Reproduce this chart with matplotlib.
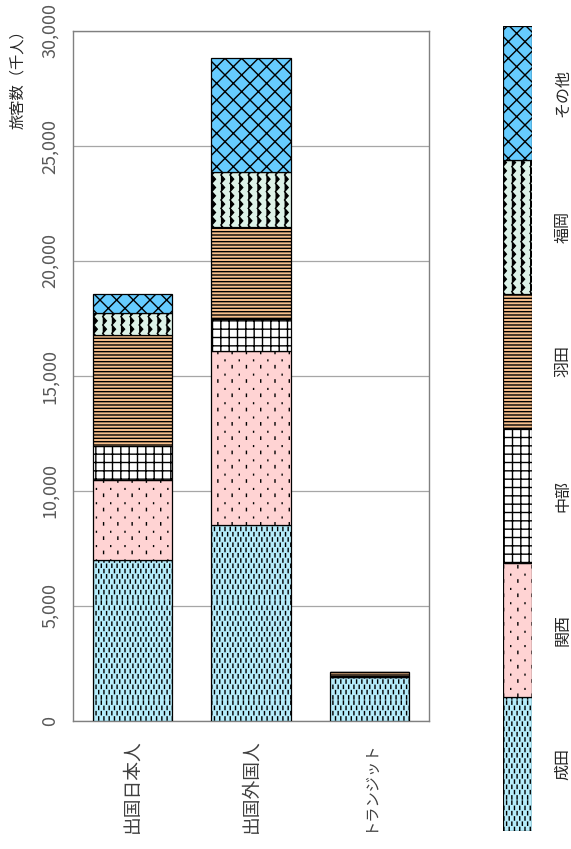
import warnings
warnings.filterwarnings("ignore")
import numpy as np
import matplotlib
matplotlib.use("Agg")
import matplotlib.pyplot as plt
import matplotlib.hatch as mhatch
from matplotlib.path import Path
from matplotlib.transforms import blended_transform_factory

plt.rcParams['font.family'] = ['Noto Sans CJK JP', 'DejaVu Sans']
plt.rcParams['hatch.linewidth'] = 1.0

# ---------------- data ----------------
categories = ['出国日本人', '出国外国人', 'トランジット']
series = ['成田', '関西', '中部', '羽田', '福岡', 'その他']
narita = [7000, 8520, 1910]
kansai = [3480, 7570, 20]
chubu = [1480, 1380, 30]
haneda = [4820, 4000, 150]
fukuoka = [970, 2390, 10]
others = [820, 4980, 10]
yticks = [0, 5000, 10000, 15000, 20000, 25000, 30000]
ytick_labels = ['0', '5,000', '10,000', '15,000', '20,000', '25,000', '30,000']
ylabel = '旅客数（千人）'

values = [narita, kansai, chubu, haneda, fukuoka, others]


# ---------------- custom hatches ----------------
class WaveHatch(mhatch.HatchPatternBase):
    """vertical zig-zag lines, char '~'"""
    def __init__(self, hatch, density):
        self.num_lines = 11 if '~' in hatch else 0
        self.segs = 24
        self.num_vertices = self.num_lines * (self.segs + 1)

    def set_vertices_and_codes(self, vertices, codes):
        if not self.num_lines:
            return
        step = 1.0 / self.num_lines
        amp = 0.2 * step
        ys = np.linspace(0, 1, self.segs + 1)
        k = 0
        for j in range(self.num_lines):
            x0 = (j + 0.5) * step
            for i, y in enumerate(ys):
                vertices[k] = (x0 + (amp if i % 2 else -amp), y)
                codes[k] = Path.MOVETO if i == 0 else Path.LINETO
                k += 1


class DashHatch(mhatch.HatchPatternBase):
    """staggered short vertical dashes, char ':'"""
    def __init__(self, hatch, density):
        self.n = 19 if ':' in hatch else 0
        self.num_vertices = self.n * self.n * 2

    def set_vertices_and_codes(self, vertices, codes):
        if not self.n:
            return
        step = 1.0 / self.n
        k = 0
        for r in range(self.n):
            for c in range(self.n):
                x = (c + 0.5 * (r % 2) + 0.25) * step
                y = (r + 0.2) * step
                vertices[k] = (x, y)
                vertices[k + 1] = (x, y + 0.6 * step)
                codes[k] = Path.MOVETO
                codes[k + 1] = Path.LINETO
                k += 2


class DotHatch(mhatch.HatchPatternBase):
    """sparse big dots with small dots between, char ','"""
    def __init__(self, hatch, density):
        self.n = 7 if ',' in hatch else 0
        self.num_vertices = self.n * self.n * 4

    def set_vertices_and_codes(self, vertices, codes):
        if not self.n:
            return
        step = 1.0 / self.n
        k = 0
        for r in range(self.n):
            for c in range(self.n):
                x = (c + 0.25) * step
                y = (r + 0.25) * step
                vertices[k] = (x, y)
                vertices[k + 1] = (x, y + 0.16 * step)
                xs = (c + 0.75) * step
                ys = (r + 0.75) * step
                vertices[k + 2] = (xs, ys)
                vertices[k + 3] = (xs, ys + 0.05 * step)
                codes[k] = Path.MOVETO
                codes[k + 1] = Path.LINETO
                codes[k + 2] = Path.MOVETO
                codes[k + 3] = Path.LINETO
                k += 4


mhatch._hatch_types.append(WaveHatch)
mhatch._hatch_types.append(DashHatch)
mhatch._hatch_types.append(DotHatch)

colors = ['#B5ECFB', '#FFD3D3', '#FFFFFF', '#F8C08C', '#DDF2E8', '#66CCFF']
hatches = [':', ',', '++', '-----', '~', 'xx']

# ---------------- figure ----------------
fig = plt.figure(figsize=(5.71, 8.49), dpi=100)
ax = fig.add_axes([73 / 571, 1 - 721 / 849, 356 / 571, 690 / 849])

x = np.arange(len(categories))
bottom = np.zeros(len(categories))
for vals, col, h in zip(values, colors, hatches):
    ax.bar(x, vals, width=0.67, bottom=bottom, color=col, edgecolor='black',
           hatch=h, linewidth=0.9, zorder=3)
    bottom += np.array(vals)

ax.set_xlim(-0.5, 2.5)
ax.set_ylim(0, 30000)
ax.set_yticks(yticks)
ax.set_yticklabels(ytick_labels, rotation=90, va='center', fontsize=13,
                   color='#595959')
ax.set_xticks(x)
ax.set_xticklabels(categories, rotation=90, va='top', ha='center',
                   fontsize=13.5, color='#404040')
for lbl in ax.get_xticklabels():
    if len(lbl.get_text()) > 5:
        lbl.set_fontsize(11)
ax.tick_params(axis='y', length=0, pad=10)
ax.tick_params(axis='x', length=0, pad=13)
ax.yaxis.grid(True, color='#A6A6A6', linewidth=0.9, zorder=0)
ax.set_axisbelow(True)
for s in ax.spines.values():
    s.set_color('#808080')
    s.set_linewidth(1.0)

fig.text(18 / 571, 1 - 22 / 849, ylabel, rotation=90, ha='center', va='top',
         fontsize=11, color='#262626')

# ---------------- legend strip ----------------
lax = fig.add_axes([503 / 571, 1 - 831 / 849, 29 / 571, 805 / 849])
n = len(series)
for i, (name, col, h) in enumerate(zip(series, colors, hatches)):
    lax.bar(0, 1, bottom=i, width=1.0, color=col, edgecolor='black',
            hatch=h, linewidth=0.9)
lax.set_xlim(-0.5, 0.5)
lax.set_ylim(0, n)
lax.axis('off')
tr = blended_transform_factory(fig.transFigure, lax.transData)
for i, name in enumerate(series):
    fig.text(563 / 571, i + 0.5, name, transform=tr, rotation=90,
             ha='center', va='center', fontsize=11.5, color='#262626')

fig.savefig('out.png', dpi=100)
